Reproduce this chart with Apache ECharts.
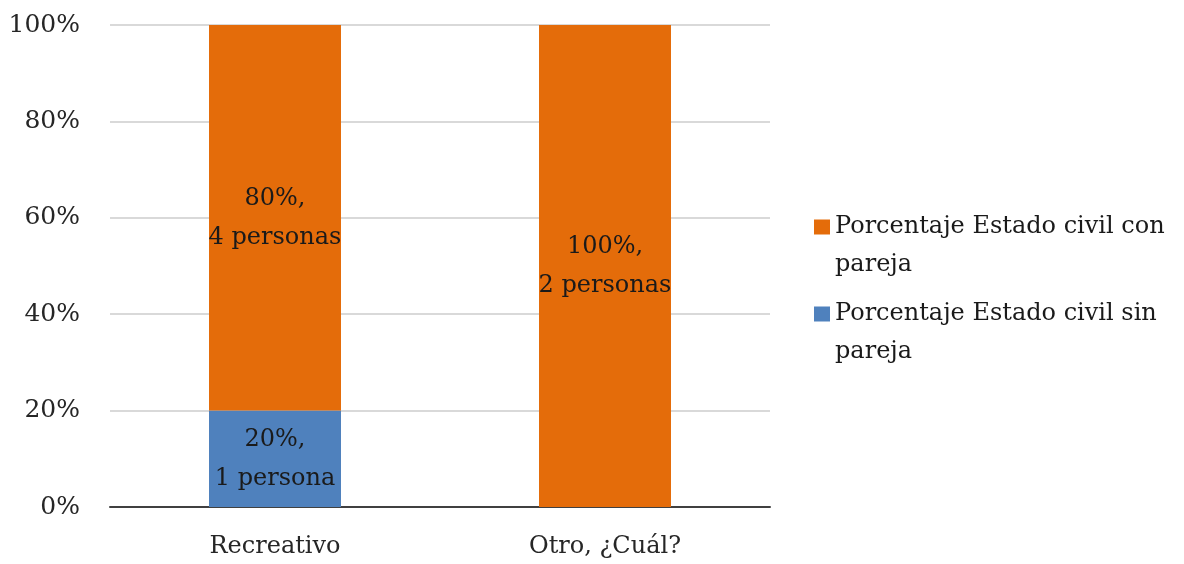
<!DOCTYPE html>
<html><head><meta charset="utf-8">
<script src="https://cdn.jsdelivr.net/npm/echarts@6/dist/echarts.min.js"></script>
<style>html,body{margin:0;padding:0;background:#fff}#c{width:1184px;height:564px}</style>
</head><body><div id="c"></div>
<script>
const categories = ['Recreativo', 'Otro, ¿Cuál?'];
const seriesNames = ['Porcentaje Estado civil sin pareja', 'Porcentaje Estado civil con pareja'];
const sinPareja = [20, 0];
const conPareja = [80, 100];
const sinLabels = ['20%,\n1 persona', ''];
const conLabels = ['80%,\n4 personas', '100%,\n2 personas'];
const yTicks = [0, 20, 40, 60, 80, 100];

const FONT = 'DejaVu Serif';
const chart = echarts.init(document.getElementById('c'));
const lbl = (arr) => ({
  show: true, position: 'inside', fontFamily: FONT, fontSize: 24, lineHeight: 39, color: '#1a1a1a',
  formatter: p => arr[p.dataIndex]
});
chart.setOption({
  animation: false,
  textStyle: { fontFamily: FONT },
  grid: { left: 110, right: 414, top: 25, bottom: 57 },
  legend: {
    orient: 'vertical', left: 814, top: 170, padding: 0, itemGap: -27, itemWidth: 16, itemHeight: 15,
    icon: 'rect',
    data: [seriesNames[1], seriesNames[0]],
    formatter: n => '\n' + n.replace(' pareja', '\npareja'),
    textStyle: { fontFamily: FONT, fontSize: 24, lineHeight: 38, color: '#1a1a1a' }
  },
  xAxis: {
    type: 'category', data: categories,
    axisLine: { lineStyle: { color: '#404040', width: 2 } },
    axisTick: { show: false },
    axisLabel: { fontFamily: FONT, fontSize: 24, color: '#262626', margin: 28 }
  },
  yAxis: {
    type: 'value', min: 0, max: 100, interval: 20,
    axisLabel: { fontFamily: FONT, fontSize: 25, color: '#262626', margin: 30, formatter: v => v + '%' },
    splitLine: { lineStyle: { color: '#d9d9d9', width: 2 } },
    axisLine: { show: false }, axisTick: { show: false }
  },
  series: [
    { name: seriesNames[0], type: 'bar', stack: 's', barWidth: '40%', data: sinPareja,
      itemStyle: { color: '#4f81bd' }, label: lbl(sinLabels) },
    { name: seriesNames[1], type: 'bar', stack: 's', barWidth: '40%', data: conPareja,
      itemStyle: { color: '#e46c0a' }, label: lbl(conLabels) }
  ]
});
</script></body></html>
